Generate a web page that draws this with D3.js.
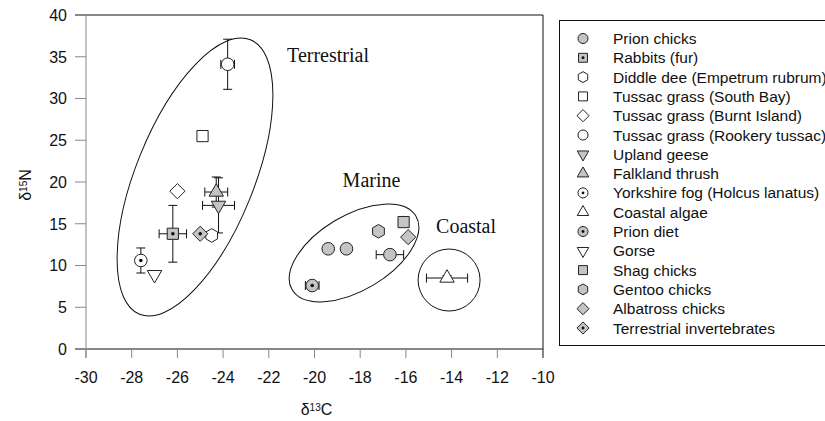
<!DOCTYPE html>
<meta charset="utf-8">
<style>
body { margin: 0; background: #fff; }
svg { font-family: "Liberation Sans", Arial, sans-serif; }
.tick-label { font-size: 16px; fill: #111; }
.group-label { font-family: "Liberation Serif", "Times New Roman", serif; font-size: 20px; fill: #111; }
.legend text { font-size: 15.5px; fill: #111; }
.err { stroke: #111; stroke-width: 1; fill: none; }
.mark { stroke: #222; stroke-width: 1; }
</style>
<svg width="825" height="421"></svg>
<script src="https://d3js.org/d3.v7.min.js"></script>
<script>

// series (legend order)
var seriesNames = ["Prion chicks", "Rabbits (fur)", "Diddle dee (Empetrum rubrum)",
  "Tussac grass (South Bay)", "Tussac grass (Burnt Island)", "Tussac grass (Rookery tussac)",
  "Upland geese", "Falkland thrush", "Yorkshire fog (Holcus lanatus)", "Coastal algae",
  "Prion diet", "Gorse", "Shag chicks", "Gentoo chicks", "Albatross chicks",
  "Terrestrial invertebrates"];

// points: series index, d13C, d15N, error in d13C, error in d15N
var pointSeries = [0, 0, 0, 1, 2, 3, 4, 5, 6, 7, 8, 9, 10, 11, 12, 13, 14, 15];
var pointC      = [-19.4, -18.6, -16.7, -26.2, -24.5, -24.9, -26.0, -23.8, -24.2, -24.3, -27.6, -14.2, -20.1, -27.0, -16.1, -17.2, -15.9, -25.0];
var pointN      = [12.0, 12.0, 11.3, 13.8, 13.6, 25.5, 18.9, 34.1, 17.2, 18.8, 10.6, 8.5, 7.6, 8.9, 15.2, 14.1, 13.4, 13.8];
var pointCErr   = [0, 0, 0.6, 0.6, 0, 0, 0, 0.3, 0.7, 0.5, 0, 0.9, 0.3, 0, 0, 0, 0, 0];
var pointNErr   = [0, 0, 0, 3.4, 0, 0, 0, 3.0, 3.3, 1.8, 1.5, 0.3, 0, 0, 0, 0, 0, 0];

// axis ticks
var xTicks = [-30, -28, -26, -24, -22, -20, -18, -16, -14, -12, -10];
var yTicks = [0, 5, 10, 15, 20, 25, 30, 35, 40];

// groups drawn as ellipses
var groupNames = ["Terrestrial", "Marine", "Coastal"];
var groupC     = [-25.23, -18.27, -14.11];
var groupN     = [20.6, 11.5, 8.26];

// marker look per series: shape, filled, centre dot
var seriesStyle = [
  ["circle", true, false], ["square", true, true], ["hexagon", false, false],
  ["square", false, false], ["diamond", false, false], ["circle", false, false],
  ["triDown", true, false], ["triUp", true, false], ["circle", false, true],
  ["triUp", false, false], ["circle", true, true], ["triDown", false, false],
  ["square", true, false], ["hexagon", true, false], ["diamond", true, false],
  ["diamond", true, true]
];

var svg = d3.select("svg"),
    margin = {top: 15, right: 282, bottom: 72, left: 86},
    width = 825 - margin.left - margin.right,
    height = 421 - margin.top - margin.bottom;

var x = d3.scaleLinear().domain([-30, -10]).range([margin.left, margin.left + width]),
    y = d3.scaleLinear().domain([0, 40]).range([margin.top + height, margin.top]);

var grey = "#c4c4c4";

function shapePath(type, s) {
  var r, h;
  switch (type) {
    case "circle":
      r = 6.3 * s;
      return "M" + r + ",0A" + r + "," + r + " 0 1,1 " + (-r) + ",0A" + r + "," + r + " 0 1,1 " + r + ",0Z";
    case "square":
      r = 5.6 * s;
      return "M" + (-r) + "," + (-r) + "H" + r + "V" + r + "H" + (-r) + "Z";
    case "diamond":
      r = 7.6 * s;
      return "M0," + (-r) + "L" + r + ",0L0," + r + "L" + (-r) + ",0Z";
    case "triUp":
      r = 7.2 * s; h = r * Math.sqrt(3);
      return "M0," + (-h * 2 / 3) + "L" + r + "," + (h / 3) + "L" + (-r) + "," + (h / 3) + "Z";
    case "triDown":
      r = 7.2 * s; h = r * Math.sqrt(3);
      return "M0," + (h * 2 / 3) + "L" + r + "," + (-h / 3) + "L" + (-r) + "," + (-h / 3) + "Z";
    case "hexagon":
      r = 6.8 * s;
      var pts = d3.range(6).map(function(i) {
        var a = Math.PI / 3 * i - Math.PI / 2;
        return [r * Math.cos(a), r * Math.sin(a)];
      });
      return "M" + pts.join("L") + "Z";
  }
}

function drawMarker(g, idx, s) {
  var st = seriesStyle[idx];
  g.append("path")
    .attr("class", "mark")
    .attr("d", shapePath(st[0], s))
    .attr("fill", st[1] ? grey : "#fff");
  if (st[2]) {
    g.append("circle").attr("r", 1.8 * s).attr("fill", "#111");
  }
}

// frame
var x0 = x(-30), x1 = x(-10), y0 = y(0), y1 = y(40);
svg.append("line").attr("x1", x0 - 11).attr("x2", x1).attr("y1", y1).attr("y2", y1).attr("stroke", "#111");
svg.append("line").attr("x1", x0 - 11).attr("x2", x1).attr("y1", y0).attr("y2", y0).attr("stroke", "#111");
svg.append("line").attr("x1", x1).attr("x2", x1).attr("y1", y1).attr("y2", y0 + 9).attr("stroke", "#111");
svg.append("line").attr("x1", x0).attr("x2", x0).attr("y1", y1).attr("y2", y0 + 9).attr("stroke", "#888");

// ticks
svg.selectAll(".xt").data(xTicks.slice(0, -1)).enter().append("line")
  .attr("x1", function(d) { return x(d); }).attr("x2", function(d) { return x(d); })
  .attr("y1", y0).attr("y2", y0 + 9).attr("stroke", "#888");
svg.selectAll(".yt").data(yTicks.slice(1, -1)).enter().append("line")
  .attr("x1", x0 - 11).attr("x2", x0)
  .attr("y1", function(d) { return y(d); }).attr("y2", function(d) { return y(d); })
  .attr("stroke", "#888");

svg.selectAll(".xl").data(xTicks).enter().append("text")
  .attr("class", "tick-label")
  .attr("x", function(d) { return x(d); })
  .attr("y", y0 + 34)
  .attr("text-anchor", "middle")
  .text(function(d) { return d; });
svg.selectAll(".yl").data(yTicks).enter().append("text")
  .attr("class", "tick-label")
  .attr("x", x0 - 19)
  .attr("y", function(d) { return y(d); })
  .attr("dy", "0.36em")
  .attr("text-anchor", "end")
  .text(function(d) { return d; });

// axis titles
var xt = svg.append("text").attr("x", (x0 + x1) / 2 + 2).attr("y", 415)
  .attr("text-anchor", "middle").style("font-size", "16px").attr("fill", "#111");
xt.append("tspan").text("δ");
xt.append("tspan").attr("baseline-shift", "40%").style("font-size", "10px").text("13");
xt.append("tspan").text("C");

var yt = svg.append("text").attr("transform", "translate(31,185) rotate(-90)")
  .attr("text-anchor", "middle").style("font-size", "16px").attr("fill", "#111");
yt.append("tspan").text("δ");
yt.append("tspan").attr("baseline-shift", "40%").style("font-size", "10px").text("15");
yt.append("tspan").text("N");

// group ellipses
var ellipseShape = [
  {rx: 59, ry: 148, rot: 22},
  {rx: 72, ry: 37.5, rot: -30.8},
  {rx: 31, ry: 31, rot: 0}
];
groupNames.forEach(function(name, i) {
  var cx = x(groupC[i]), cy = y(groupN[i]), e = ellipseShape[i];
  svg.append("ellipse")
    .attr("cx", cx).attr("cy", cy).attr("rx", e.rx).attr("ry", e.ry)
    .attr("transform", "rotate(" + e.rot + "," + cx + "," + cy + ")")
    .attr("fill", "none").attr("stroke", "#111").attr("stroke-width", 1);
});

// group labels
var labelAt = [[-21.2, 34.4], [-18.77, 19.4], [-14.68, 13.86]];
svg.selectAll(".group-label").data(groupNames).enter().append("text")
  .attr("class", "group-label")
  .attr("x", function(d, i) { return x(labelAt[i][0]); })
  .attr("y", function(d, i) { return y(labelAt[i][1]); })
  .text(function(d) { return d; });

// error bars
var cap = 4.5;
pointC.forEach(function(c, i) {
  var px = x(c), py = y(pointN[i]), g = svg.append("g").attr("class", "err");
  if (pointCErr[i] > 0) {
    var xa = x(c - pointCErr[i]), xb = x(c + pointCErr[i]);
    g.append("line").attr("x1", xa).attr("x2", xb).attr("y1", py).attr("y2", py);
    g.append("line").attr("x1", xa).attr("x2", xa).attr("y1", py - cap).attr("y2", py + cap);
    g.append("line").attr("x1", xb).attr("x2", xb).attr("y1", py - cap).attr("y2", py + cap);
  }
  if (pointNErr[i] > 0) {
    var ya = y(pointN[i] - pointNErr[i]), yb = y(pointN[i] + pointNErr[i]);
    g.append("line").attr("x1", px).attr("x2", px).attr("y1", ya).attr("y2", yb);
    g.append("line").attr("x1", px - cap).attr("x2", px + cap).attr("y1", ya).attr("y2", ya);
    g.append("line").attr("x1", px - cap).attr("x2", px + cap).attr("y1", yb).attr("y2", yb);
  }
});

// markers
pointC.forEach(function(c, i) {
  var g = svg.append("g").attr("transform", "translate(" + x(c) + "," + y(pointN[i]) + ")");
  drawMarker(g, pointSeries[i], 1);
});

// legend
var legend = svg.append("g").attr("class", "legend");
legend.append("rect")
  .attr("x", 559.5).attr("y", 20.5).attr("width", 300).attr("height", 325)
  .attr("fill", "#fff").attr("stroke", "#111");
var row = d3.scaleLinear().domain([0, 15]).range([38.5, 328]);
seriesNames.forEach(function(name, i) {
  var g = legend.append("g").attr("transform", "translate(583," + row(i) + ")");
  drawMarker(g, i, 0.8);
  g.append("text").attr("x", 30).attr("dy", "0.36em").text(name);
});

</script>
